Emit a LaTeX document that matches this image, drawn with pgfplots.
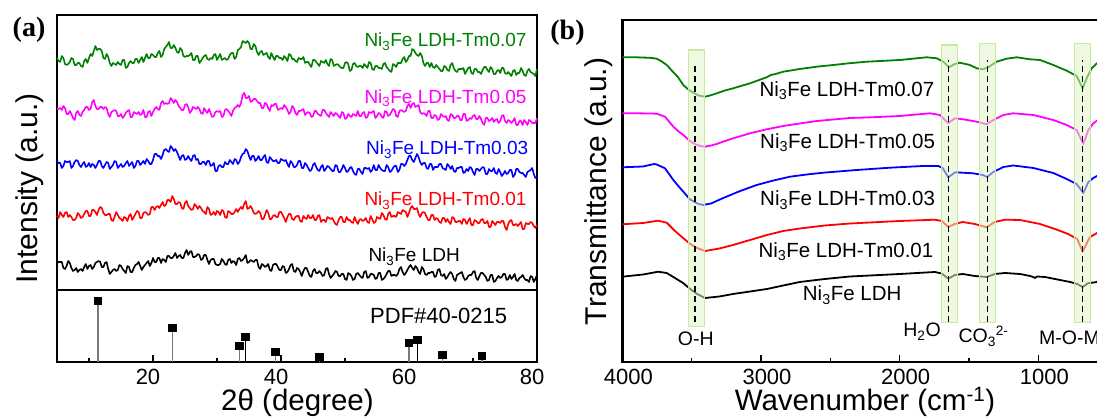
\documentclass[border=0pt]{standalone}
\usepackage{fontspec}
\setmainfont{Liberation Sans}
\newfontfamily\panelfont{Liberation Serif}
\usepackage{pgfplots}
\usepackage{pgfplotstable}
\pgfplotsset{compat=1.18}

\definecolor{cgreen}{RGB}{0,128,0}
\definecolor{cmag}{RGB}{255,0,255}
\definecolor{cblue}{RGB}{0,0,255}
\definecolor{cred}{RGB}{255,0,0}
\definecolor{bandfill}{RGB}{226,243,200}
\definecolor{bandedge}{RGB}{200,234,158}
\definecolor{stick}{RGB}{120,120,120}

% XRD patterns, stacked with offsets: 2theta, then Tm0.07, Tm0.05, Tm0.03, Tm0.01, pristine
\pgfplotstableread{
tt G M B R K
5.0 304 253 201 146 99
5.25 301 253 199 144 100
5.5 300 254 199 150 100
5.75 306 252 194 147 100
6.0 304 256 196 145 94
6.25 298 254 201 149 93
6.5 297 248 200 150 96
6.75 298 248 200 145 101
7.0 300 251 201 147 99
7.25 304 248 194 145 94
7.5 303 244 196 142 91
7.75 297 242 200 142 92
8.0 297 249 202 144 94
8.25 299 251 201 149 90
8.5 299 247 197 147 92
8.75 296 246 195 144 93
9.0 295 250 198 145 91
9.25 301 252 200 148 95
9.5 303 255 195 151 98
9.75 299 255 196 151 93
10.0 304 252 199 146 96
10.25 308 253 195 146 97
10.5 306 260 198 152 93
10.75 311 262 197 152 95
11.0 316 256 194 150 99
11.25 312 253 197 147 100
11.5 313 253 201 152 101
11.75 313 255 201 155 100
12.0 311 255 196 154 95
12.25 304 253 194 149 95
12.5 303 255 197 147 99
12.75 308 254 200 147 100
13.0 305 248 199 148 93
13.25 299 245 193 148 88
13.5 296 250 195 142 90
13.75 299 251 197 141 92
14.0 298 252 201 145 93
14.25 297 251 200 150 91
14.5 300 246 194 147 92
14.75 298 246 196 144 97
15.0 297 248 198 143 96
15.25 302 244 195 141 93
15.5 302 246 196 145 91
15.75 294 249 199 144 89
16.0 295 251 201 141 96
16.25 299 252 196 146 95
16.5 301 245 198 148 90
16.75 299 245 200 142 90
17.0 299 250 194 145 94
17.25 303 249 196 148 97
17.5 303 248 201 151 98
17.75 299 250 201 150 100
18.0 302 247 197 144 96
18.25 305 248 199 144 92
18.5 300 252 201 149 95
18.75 304 245 198 150 97
19.0 308 245 203 149 99
19.25 304 250 201 147 101
19.5 304 251 198 148 96
19.75 308 246 198 155 99
20.0 307 250 202 155 104
20.25 305 253 208 152 100
20.5 305 255 208 155 100
20.75 309 253 206 156 104
21.0 311 252 206 154 104
21.25 305 259 203 157 99
21.5 307 261 207 160 103
21.75 313 258 212 156 102
22.0 315 259 213 157 100
22.25 317 258 211 162 106
22.5 320 259 210 162 106
22.75 314 264 216 160 104
23.0 314 262 214 166 104
23.25 317 259 211 163 106
23.5 314 262 213 158 109
23.75 310 260 210 158 104
24.0 309 256 206 160 106
24.25 314 254 202 159 107
24.5 312 252 206 154 104
24.75 306 252 207 153 104
25.0 305 257 202 159 109
25.25 306 258 203 161 112
25.5 306 255 206 156 107
25.75 307 249 203 154 110
26.0 309 251 201 152 111
26.25 302 255 206 153 105
26.5 302 254 207 158 105
26.75 306 253 202 156 106
27.0 306 255 203 153 108
27.25 299 253 198 156 107
27.5 301 249 198 154 102
27.75 304 248 200 151 103
28.0 306 254 200 150 107
28.25 307 251 197 148 107
28.5 303 249 201 155 102
28.75 302 253 201 153 98
29.0 304 249 196 147 102
29.25 303 245 197 148 103
29.5 307 246 199 150 103
29.75 308 250 191 147 98
30.0 302 251 191 151 97
30.25 305 250 196 150 97
30.5 308 251 197 147 98
30.75 302 245 195 152 103
31.0 303 246 195 151 101
31.25 304 252 200 145 98
31.5 302 253 198 144 97
31.75 303 251 198 151 102
32.0 307 249 202 150 103
32.25 309 246 200 148 99
32.5 309 251 198 148 101
32.75 303 254 203 150 100
33.0 305 255 202 153 97
33.25 312 257 198 150 103
33.5 313 255 200 153 104
33.75 315 259 205 155 101
34.0 321 267 208 153 102
34.25 320 269 209 158 104
34.5 319 264 213 161 107
34.75 321 264 211 153 99
35.0 319 266 206 154 100
35.25 313 260 202 156 102
35.5 313 261 206 153 101
35.75 318 263 206 149 100
36.0 316 263 201 148 102
36.25 310 261 203 149 102
36.5 307 259 206 151 95
36.75 310 259 202 149 93
37.0 311 254 202 143 98
37.25 307 254 205 143 97
37.5 308 259 207 147 95
37.75 309 258 200 152 96
38.0 305 254 199 149 98
38.25 303 251 205 143 92
38.5 309 257 203 143 91
38.75 305 256 201 146 97
39.0 302 258 201 147 98
39.25 306 258 202 145 98
39.5 306 252 199 145 95
39.75 304 253 199 150 92
40.0 304 254 203 150 92
40.25 302 253 202 147 96
40.5 306 257 201 144 95
40.75 304 255 202 140 89
41.0 301 252 198 145 90
41.25 308 248 195 148 93
41.5 307 250 201 148 97
41.75 303 256 199 143 98
42.0 303 254 195 142 91
42.25 301 249 195 145 90
42.5 300 247 197 146 94
42.75 304 251 201 146 93
43.0 303 251 201 141 90
43.25 303 252 194 140 86
43.5 305 253 194 146 91
43.75 299 247 199 144 94
44.0 300 249 197 143 94
44.25 300 250 194 147 90
44.5 297 249 191 144 86
44.75 295 245 192 144 85
45.0 302 246 197 147 91
45.25 302 251 199 142 93
45.5 300 251 195 142 89
45.75 298 248 192 146 89
46.0 296 247 191 147 91
46.25 301 246 195 140 89
46.5 300 252 197 142 86
46.75 299 252 191 142 87
47.0 302 249 193 140 93
47.25 298 247 196 145 94
47.5 296 245 195 144 88
47.75 303 250 193 143 84
48.0 302 248 191 144 86
48.25 296 246 191 141 88
48.5 297 249 197 138 91
48.75 298 248 196 137 90
49.0 297 246 190 142 86
49.25 295 244 190 145 86
49.5 294 250 193 145 88
49.75 294 249 197 140 88
50.0 299 243 194 140 83
50.25 300 244 190 145 82
50.5 298 248 191 142 89
50.75 291 246 194 142 88
51.0 292 245 195 140 86
51.25 298 248 191 139 82
51.5 299 247 188 145 83
51.75 296 246 187 141 88
52.0 295 251 193 138 89
52.25 296 246 193 142 87
52.5 296 246 190 143 85
52.75 294 249 188 141 84
53.0 298 250 194 142 90
53.25 296 244 194 144 91
53.5 294 245 193 140 84
53.75 300 250 194 139 85
54.0 299 249 190 146 88
54.25 293 250 192 143 88
54.5 292 251 197 139 87
54.75 296 244 192 140 83
55.0 296 246 192 145 84
55.25 294 249 197 144 89
55.5 294 248 194 143 89
55.75 293 245 192 149 82
56.0 298 244 191 147 83
56.25 299 251 191 143 85
56.5 295 250 197 142 88
56.75 293 246 195 148 91
57.0 291 247 190 150 91
57.25 290 250 191 145 86
57.5 298 253 194 146 87
57.75 297 252 196 146 87
58.0 295 246 196 145 86
58.25 299 245 190 150 88
58.5 299 251 192 149 93
58.75 299 252 198 148 95
59.0 303 251 198 152 90
59.25 305 250 196 151 87
59.5 300 251 198 150 89
59.75 302 256 202 145 92
60.0 306 258 206 149 95
60.25 306 254 206 154 97
60.5 313 258 202 156 94
60.75 312 259 200 153 92
61.0 309 255 204 153 96
61.25 307 256 208 154 94
61.5 306 257 205 148 90
61.75 309 250 200 145 88
62.0 306 248 197 149 95
62.25 299 249 199 150 93
62.5 296 248 199 149 88
62.75 299 246 194 145 87
63.0 299 251 193 142 89
63.25 295 251 198 142 89
63.5 299 244 198 147 90
63.75 295 244 192 147 90
64.0 294 247 195 142 85
64.25 297 246 195 144 86
64.5 295 242 195 143 92
64.75 293 243 198 140 93
65.0 291 248 198 139 87
65.25 291 246 194 144 86
65.5 296 245 193 144 88
65.75 295 246 192 140 83
66.0 292 242 198 143 85
66.25 291 241 196 140 88
66.5 297 248 193 138 90
66.75 299 247 196 145 88
67.0 294 244 191 144 83
67.25 291 244 190 140 81
67.5 290 246 194 140 87
67.75 293 246 194 141 88
68.0 293 242 195 141 89
68.25 293 242 195 138 90
68.5 294 248 189 143 85
68.75 288 248 190 142 82
69.0 291 241 193 138 83
69.25 294 242 191 141 86
69.5 295 244 195 144 87
69.75 289 243 194 137 87
70.0 288 246 190 137 90
70.25 293 247 187 142 91
70.5 293 243 193 141 84
70.75 290 243 193 139 82
71.0 290 246 191 139 86
71.25 288 243 193 142 89
71.5 292 239 195 143 89
71.75 295 237 194 139 87
72.0 295 244 188 139 85
72.25 292 244 188 141 81
72.5 290 241 193 135 82
72.75 295 242 191 135 87
73.0 293 244 191 141 87
73.25 288 240 194 139 80
73.5 288 242 189 137 81
73.75 291 243 188 140 84
74.0 292 239 193 140 86
74.25 289 241 190 139 84
74.5 294 246 186 141 85
74.75 294 247 188 141 88
75.0 289 241 191 135 88
75.25 288 239 188 132 82
75.5 290 242 189 138 83
75.75 288 241 192 141 87
76.0 286 239 192 142 83
76.25 291 241 185 137 85
76.5 292 244 187 137 88
76.75 287 237 193 138 82
77.0 289 237 193 136 81
77.25 289 241 190 138 84
77.5 294 241 189 140 85
77.75 291 237 189 133 87
78.0 287 242 187 133 84
78.25 286 240 185 139 82
78.5 291 237 190 138 82
78.75 293 242 191 138 80
79.0 290 241 192 140 86
79.25 289 239 194 139 85
79.5 288 239 188 136 80
79.75 286 239 184 134 83
80.0 293 244 185 137 87
}\xrd

\pgfplotsset{
  panel/.style={
    anchor=south west, scale only axis,
    ytick=\empty, xtick pos=left, tick align=inside,
    major tick length=7pt, minor tick length=3.5pt,
    every tick/.style={black, line width=1.5pt},
    axis line style={line width=2.4pt},
    /pgf/number format/assume math mode=true,
    /pgf/number format/1000 sep={},
    clip=false,
  },
}
\tikzset{
  band/.style={fill=bandfill, fill opacity=0.55, draw=bandedge, draw opacity=1, line width=1.2pt},
  guide/.style={black, line width=1.4pt, dash pattern=on 6pt off 4pt},
}

\begin{document}
\begin{tikzpicture}[x=1pt,y=1pt]
\useasboundingbox (0,0) rectangle (1097,419);

% ---------------- (a) XRD ----------------
\begin{axis}[panel,
  at={(57pt,57pt)}, width=480pt, height=347pt,
  xmin=5, xmax=80, ymin=0, ymax=347,
  xtick={20,40,60,80}, minor xtick={10,30,50,70},
  xticklabel style={font=\fontsize{22}{26}\selectfont, inner sep=0pt, text height=16pt, text depth=0pt, anchor=base, yshift=-23pt, xshift=-5pt},
]
\addplot[cgreen, line width=1.6pt, line join=round] table[x=tt, y=G] {\xrd};
\addplot[cmag,   line width=1.6pt, line join=round] table[x=tt, y=M] {\xrd};
\addplot[cblue,  line width=1.6pt, line join=round] table[x=tt, y=B] {\xrd};
\addplot[cred,   line width=1.6pt, line join=round] table[x=tt, y=R] {\xrd};
\addplot[black,  line width=1.6pt, line join=round] table[x=tt, y=K] {\xrd};
% separator between the patterns and the reference card
\addplot[black, line width=1.2pt] coordinates {(5,72) (80,72)};
% reference pattern PDF#40-0215
\addplot[stick, line width=1.2pt, ycomb, mark=square*, mark size=3.8pt,
  mark options={black, fill=black, solid}]
  coordinates {(11.4,61) (23.0,34) (33.5,16) (39.1,10) (46.0,5) (60.0,19) (65.2,7) (71.4,6)};
\addplot[black, line width=1.2pt, ycomb, mark=square*, mark size=3.8pt,
  mark options={black, fill=black, solid}]
  coordinates {(34.4,25) (61.3,22)};
\end{axis}

% ---------------- (b) FTIR ----------------
\begin{axis}[panel,
  at={(622.3pt,57pt)}, width=485.45pt, height=342pt,
  xmin=500, xmax=4000, x dir=reverse, ymin=0, ymax=342,
  xtick={1000,2000,3000,4000}, minor xtick={1500,2500,3500},
  xticklabel style={font=\fontsize{22}{26}\selectfont, inner sep=0pt, text height=16pt, text depth=0pt, anchor=base, yshift=-23pt, xshift=6pt},
]
\addplot[cgreen, line width=1.8pt, line join=round] coordinates {
(4000,304.7)(3900,304.7)(3800,304.2)(3752,303.3)(3715,300.5)(3680,297)(3640,291)(3601,285.3)
(3560,277)(3520,272)(3488,269.3)(3450,266.5)(3404,265.3)(3360,266.8)(3319,268.7)(3260,271.5)
(3200,273.7)(3079,278.7)(2959,284.7)(2929,287)(2900,287.8)(2839,290.3)(2721,293)(2598,295.3)
(2479,297)(2359,298.8)(2238,300.3)(1999,302)(1805,304.7)(1733,303.7)(1686,300.3)(1645,294.7)
(1603,298)(1566,299.3)(1494,297)(1445,293.7)(1402,292.7)(1361,294.7)(1301,300.3)(1229,303.3)
(1156,304.7)(1061,302.7)(988,302)(893,297)(796,291.3)(724,286)(681,273.7)(647,285.3)
(616,293.7)(578,298.7)(540,302)(500,304)};
\addplot[cmag, line width=1.8pt, line join=round] coordinates {
(4000,248.7)(3900,248.7)(3800,248.5)(3752,248.3)(3692,245.3)(3632,235.3)(3590,230)(3560,227)
(3520,222)(3488,218.7)(3440,216)(3404,215.3)(3360,216.5)(3319,218)(3260,221)(3200,223.7)
(3079,228.7)(2959,232.7)(2839,236)(2721,238.5)(2598,241)(2479,242.5)(2359,244)(2238,244.5)
(1999,246)(1782,248.7)(1710,247)(1650,238.7)(1603,243.7)(1542,242.7)(1445,240.3)(1373,237.7)
(1325,242)(1253,247)(1181,248.7)(1037,247)(893,242)(796,237)(724,232)(676,218)
(640,232)(604,238.7)(578,241.3)(540,244)(500,246)};
\addplot[cblue, line width=1.8pt, line join=round] coordinates {
(4000,194.7)(3850,195.5)(3770,198)(3752,197.5)(3692,193.7)(3632,182)(3590,175)(3560,170.3)
(3513,162.7)(3460,158.5)(3418,157)(3360,158.5)(3272,164)(3150,171)(3031,177)(2910,181.5)
(2791,185.3)(2670,187.5)(2551,189.3)(2310,192)(2070,194.3)(1830,196)(1722,196)(1690,194)
(1650,184.7)(1600,189.7)(1472,188.7)(1400,187)(1370,185)(1325,190)(1253,195)(1181,196.5)
(1037,194)(893,189)(796,183)(724,178)(676,169)(640,180)(604,184)(578,186)(540,189)(500,191)};
\addplot[cred, line width=1.8pt, line join=round] coordinates {
(4000,137.7)(3850,139)(3743,141.3)(3680,139.3)(3620,131)(3562,124)(3510,118)(3461,114)
(3404,111)(3300,113.5)(3202,117)(3079,122)(2957,127)(2840,131)(2721,133.5)(2540,136.5)
(2359,138.5)(1999,141)(1747,142.3)(1697,141)(1650,135)(1603,138)(1546,140)(1459,138)
(1372,134.7)(1315,140)(1241,142.3)(1132,142)(988,138)(880,133)(786,128)(720,123)
(681,110.3)(640,122)(627,125)(577,129)(540,131)(500,133)};
\addplot[black, line width=1.8pt, line join=round] coordinates {
(4000,85.3)(3850,87.5)(3760,89.8)(3743,90.3)(3680,89)(3620,84)(3562,79)(3510,73)
(3461,68)(3404,64)(3300,65.5)(3202,68)(3079,70.5)(2957,73)(2840,76.5)(2721,80)
(2540,83)(2359,85.5)(1999,88)(1747,90)(1697,88.5)(1650,83.3)(1603,87)(1546,88)
(1459,86)(1372,85)(1315,88)(1241,89)(1132,88)(1060,86)(1038,85)(1024,84)
(1010,85.5)(952,85)(844,82)(771,80)(720,78)(681,75)(640,79)(627,79)
(577,80)(540,81)(500,82)};
% assigned bands: O-H, H2O, CO3, M-O-M
\path[band] (axis cs:3524,35.3) rectangle (axis cs:3409,312);
\path[band] (axis cs:1697,39.7) rectangle (axis cs:1585,317);
\path[band] (axis cs:1426,39.7) rectangle (axis cs:1308,318.7);
\path[band] (axis cs:741,39.7) rectangle (axis cs:623,318.7);
\draw[guide] (axis cs:3476,40.3) -- (axis cs:3476,297);
\draw[guide] (axis cs:1650,40) -- (axis cs:1650,302);
\draw[guide] (axis cs:1368,40) -- (axis cs:1368,302);
\draw[guide] (axis cs:684,40) -- (axis cs:684,302);
\end{axis}

% ---------------- labels ----------------
\node[font=\panelfont\bfseries\fontsize{28}{32}\selectfont] at (29,389) {(a)};
\node[font=\panelfont\bfseries\fontsize{28}{32}\selectfont] at (567.5,386.5) {(b)};
\node[rotate=90, font=\fontsize{30}{36}\selectfont] at (30,230.5) {Intensity (a.u.)};
\node[rotate=90, font=\fontsize{30}{36}\selectfont] at (599,227.5) {Transmittance (a.u.)};
\node[anchor=base, inner sep=0pt, text height=21pt, text depth=6pt, font=\fontsize{29.5}{35}\selectfont] at (297.5,8) {2θ (degree)};
\node[anchor=base, inner sep=0pt, text height=21pt, text depth=6pt, font=\fontsize{29.5}{35}\selectfont] at (865,8) {Wavenumber (cm\textsuperscript{-1})};

\begin{scope}[every node/.style={anchor=base west, inner sep=0pt, font=\fontsize{19}{22}\selectfont}]
\node[text=cgreen] at (364.3,372.3) {Ni\textsubscript{3}Fe LDH-Tm0.07};
\node[text=cmag]   at (364.3,315.7) {Ni\textsubscript{3}Fe LDH-Tm0.05};
\node[text=cblue]  at (366,264)     {Ni\textsubscript{3}Fe LDH-Tm0.03};
\node[text=cred]   at (364.3,213)   {Ni\textsubscript{3}Fe LDH-Tm0.01};
\node[text=black]  at (368.3,157.3) {Ni\textsubscript{3}Fe LDH};
\node[text=black, font=\fontsize{22}{26}\selectfont] at (370,95) {PDF\#40-0215};
\end{scope}

\begin{scope}[every node/.style={anchor=base west, inner sep=0pt, font=\fontsize{20.5}{24}\selectfont}]
\node at (759.3,322.3) {Ni\textsubscript{3}Fe LDH-Tm0.07};
\node at (760,270.7)   {Ni\textsubscript{3}Fe LDH-Tm0.05};
\node at (760,213)     {Ni\textsubscript{3}Fe LDH-Tm0.03};
\node at (758.3,161.7) {Ni\textsubscript{3}Fe LDH-Tm0.01};
\node at (802.7,118)   {Ni\textsubscript{3}Fe LDH};
\end{scope}

\begin{scope}[every node/.style={inner sep=0pt, font=\fontsize{19.5}{23}\selectfont}]
\node[anchor=base] at (695.8,73) {O-H};
\node[anchor=base] at (922,82) {H\textsubscript{2}O};
\node[anchor=base west] at (958.3,76) {CO\textsubscript{3}\textsuperscript{2-}};
\node[anchor=base west] at (1039,74) {M-O-M};
\end{scope}
\end{tikzpicture}
\end{document}
